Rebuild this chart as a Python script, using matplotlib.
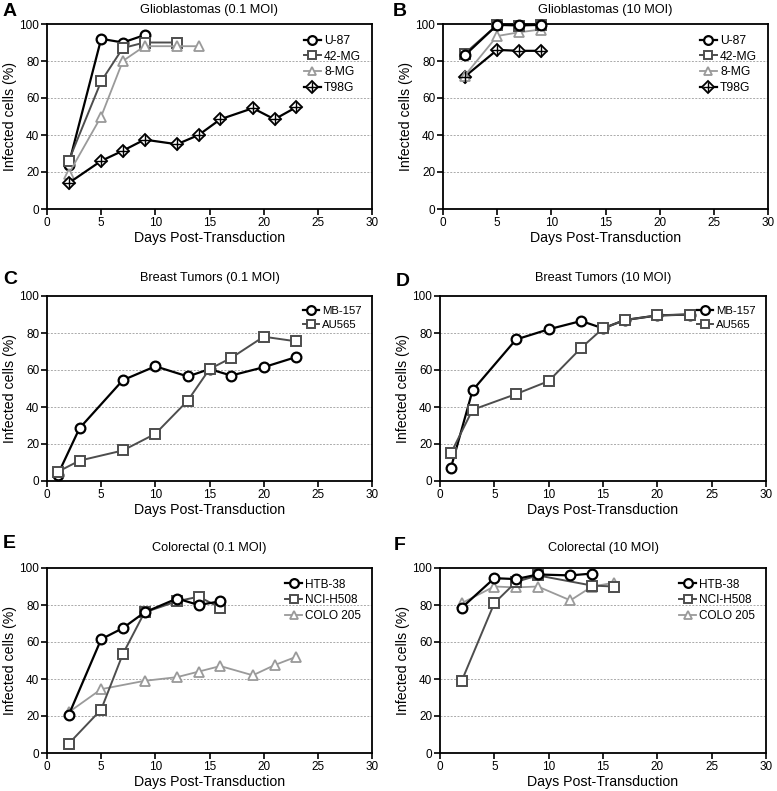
import matplotlib
matplotlib.use("Agg")
import matplotlib.pyplot as plt

plt.rcParams['font.family'] = ['Liberation Sans', 'DejaVu Sans']

# ---- data ----
# A: Glioblastomas (0.1 MOI)
a_u87_x = [2, 5, 7, 9]
a_u87_y = [24, 92, 90, 94]
a_42mg_x = [2, 5, 7, 9, 12]
a_42mg_y = [26, 69, 87, 90, 90]
a_8mg_x = [2, 5, 7, 9, 12, 14]
a_8mg_y = [19, 50, 80, 88, 88, 88]
a_t98g_x = [2, 5, 7, 9, 12, 14, 16, 19, 21, 23]
a_t98g_y = [14, 26, 31.5, 37.5, 35, 40, 48.5, 54.5, 48.5, 55]

# B: Glioblastomas (10 MOI)
b_x = [2, 5, 7, 9]
b_u87_y = [83, 99.5, 99.5, 99.5]
b_42mg_y = [84, 99.5, 99, 99.5]
b_8mg_y = [72, 93.5, 95.5, 97]
b_t98g_y = [71.5, 86, 85.5, 85.5]

# C: Breast Tumors (0.1 MOI)
c_x = [1, 3, 7, 10, 13, 15, 17, 20, 23]
c_mb157_y = [3.5, 28.5, 54.5, 62, 56.5, 60.5, 57, 61.5, 67]
c_au565_y = [5, 11, 16.5, 25.5, 43.5, 60.5, 66.5, 78, 75.5]

# D: Breast Tumors (10 MOI)
d_x = [1, 3, 7, 10, 13, 15, 17, 20, 23]
d_mb157_y = [7, 49, 76.5, 82, 86.5, 82.5, 87, 89.5, 90]
d_au565_y = [15, 38.5, 47, 54, 72, 82.5, 87, 89.5, 90]

# E: Colorectal (0.1 MOI)
e_htb_x = [2, 5, 7, 9, 12, 14, 16]
e_htb_y = [20.5, 61.5, 67.5, 76, 83.5, 80, 82]
e_nci_x = [2, 5, 7, 9, 12, 14, 16]
e_nci_y = [5, 23.5, 53.5, 76, 82, 84.5, 78.5]
e_colo_x = [2, 5, 9, 12, 14, 16, 19, 21, 23]
e_colo_y = [22, 34.5, 39, 41, 44, 47, 42, 47.5, 52]

# F: Colorectal (10 MOI)
f_htb_x = [2, 5, 7, 9, 12, 14]
f_htb_y = [78.5, 94.5, 94, 96.5, 96, 97]
f_nci_x = [2, 5, 7, 9, 14, 16]
f_nci_y = [39, 81, 92.5, 96, 90.5, 90]
f_colo_x = [2, 5, 7, 9, 12, 14, 16]
f_colo_y = [81, 90, 89.5, 90, 82.5, 90, 92]

BLACK = '#000000'
DARK = '#4d4d4d'
LIGHT = '#9a9a9a'

styles = {
    'circle': dict(color=BLACK, marker='o', ms=7, mew=1.6, lw=1.6),
    'square': dict(color=DARK, marker='s', ms=7, mew=1.4, lw=1.4),
    'tri': dict(color=LIGHT, marker='^', ms=7, mew=1.3, lw=1.3),
    'diamond': dict(color=BLACK, marker='D', ms=6.5, mew=1.3, lw=1.6),
}

fig = plt.figure(figsize=(7.77, 7.91), dpi=100)
W, H = 777, 791


def make_ax(l, t, r, b):
    return fig.add_axes([l / W, 1 - b / H, (r - l) / W, (b - t) / H])


def plot_series(ax, x, y, kind, label):
    st = styles[kind]
    h, = ax.plot(x, y, color=st['color'], lw=st['lw'], marker=st['marker'],
                 ms=st['ms'], mew=st['mew'], mfc='white', mec=st['color'],
                 label=label, zorder=3, clip_on=False)
    if kind == 'diamond':
        p, = ax.plot(x, y, ls='none', marker='+', ms=st['ms'] * 1.35, mew=1.0,
                     color=st['color'], zorder=4, clip_on=False)
        return (h, p)
    return h


def style_axes(ax, title, title_y, letter, letter_xy):
    ax.set_xlim(0, 30)
    ax.set_ylim(0, 100)
    ax.set_xticks(range(0, 31, 5))
    ax.set_yticks(range(0, 101, 20))
    for y in [20, 40, 60, 80]:
        ax.axhline(y, color='#aaaaaa', lw=0.7, ls=(0, (2, 1.5)), zorder=1)
    for s in ax.spines.values():
        s.set_linewidth(1.3)
    ax.tick_params(axis='both', labelsize=8.5, width=1.2, length=4, pad=1.5)
    ax.set_xlabel('Days Post-Transduction', fontsize=10.2, labelpad=2)
    ax.set_ylabel('Infected cells (%)', fontsize=10.2, labelpad=2)
    bb = ax.get_position()
    fig.text((bb.x0 + bb.x1) / 2, 1 - title_y / H, title, fontsize=9.2,
             ha='center', va='center')
    fig.text(letter_xy[0] / W, 1 - letter_xy[1] / H, letter, fontsize=14,
             fontweight='bold', ha='left', va='center')


def add_legend(ax, handles, labels, fs):
    ax.legend(handles, labels, loc='upper right', frameon=False,
              fontsize=fs, handlelength=1.4, handletextpad=0.3,
              labelspacing=0.3, borderaxespad=0.5, markerscale=0.9)


axA = make_ax(47, 24, 372, 209)
axB = make_ax(443, 24, 768, 209)
axC = make_ax(47, 296, 372, 481)
axD = make_ax(440, 296, 766, 481)
axE = make_ax(47, 568, 372, 753)
axF = make_ax(440, 568, 766, 753)

# A
hs = [plot_series(axA, a_u87_x, a_u87_y, 'circle', 'U-87'),
      plot_series(axA, a_42mg_x, a_42mg_y, 'square', '42-MG'),
      plot_series(axA, a_8mg_x, a_8mg_y, 'tri', '8-MG'),
      plot_series(axA, a_t98g_x, a_t98g_y, 'diamond', 'T98G')]
style_axes(axA, 'Glioblastomas (0.1 MOI)', 10, 'A', (3, 11))
add_legend(axA, hs, ['U-87', '42-MG', '8-MG', 'T98G'], 8.7)

# B
hs = [plot_series(axB, b_x, b_t98g_y, 'diamond', 'T98G'),
      plot_series(axB, b_x, b_8mg_y, 'tri', '8-MG'),
      plot_series(axB, b_x, b_42mg_y, 'square', '42-MG'),
      plot_series(axB, b_x, b_u87_y, 'circle', 'U-87')]
style_axes(axB, 'Glioblastomas (10 MOI)', 10, 'B', (393, 11))
add_legend(axB, hs[::-1], ['U-87', '42-MG', '8-MG', 'T98G'], 8.7)

# C
hs = [plot_series(axC, c_x, c_mb157_y, 'circle', 'MB-157'),
      plot_series(axC, c_x, c_au565_y, 'square', 'AU565')]
style_axes(axC, 'Breast Tumors (0.1 MOI)', 278, 'C', (3, 280))
add_legend(axC, hs, ['MB-157', 'AU565'], 8.2)

# D
hs = [plot_series(axD, d_x, d_mb157_y, 'circle', 'MB-157'),
      plot_series(axD, d_x, d_au565_y, 'square', 'AU565')]
style_axes(axD, 'Breast Tumors (10 MOI)', 278, 'D', (396, 281))
add_legend(axD, hs, ['MB-157', 'AU565'], 8.2)

# E
hs = [plot_series(axE, e_colo_x, e_colo_y, 'tri', 'COLO 205'),
      plot_series(axE, e_nci_x, e_nci_y, 'square', 'NCI-H508'),
      plot_series(axE, e_htb_x, e_htb_y, 'circle', 'HTB-38')]
style_axes(axE, 'Colorectal (0.1 MOI)', 548, 'E', (3, 544))
add_legend(axE, hs[::-1], ['HTB-38', 'NCI-H508', 'COLO 205'], 8.5)

# F
hs = [plot_series(axF, f_colo_x, f_colo_y, 'tri', 'COLO 205'),
      plot_series(axF, f_nci_x, f_nci_y, 'square', 'NCI-H508'),
      plot_series(axF, f_htb_x, f_htb_y, 'circle', 'HTB-38')]
style_axes(axF, 'Colorectal (10 MOI)', 548, 'F', (394, 545))
add_legend(axF, hs[::-1], ['HTB-38', 'NCI-H508', 'COLO 205'], 8.5)

fig.savefig('out.png', dpi=100)
